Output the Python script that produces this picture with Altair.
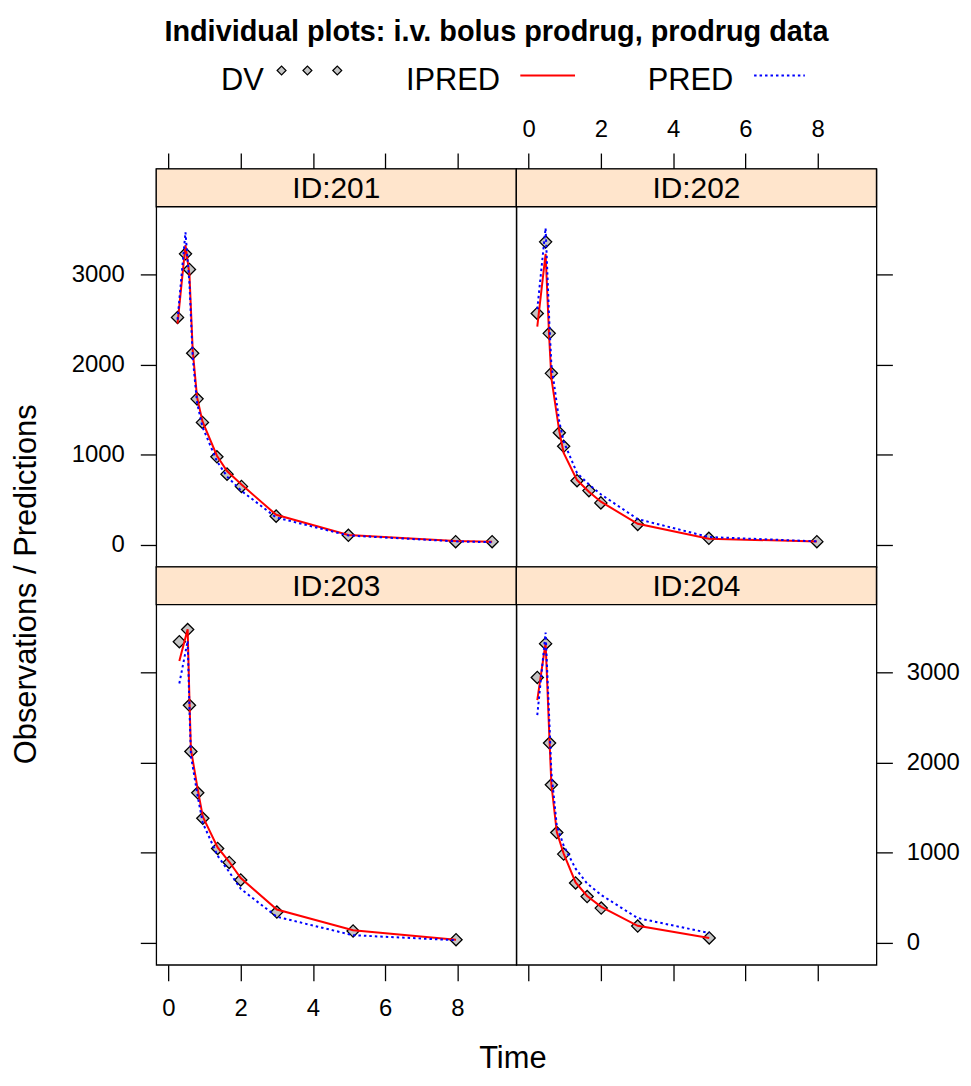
import altair as alt
import pandas as pd

# ---------------- data ----------------
ids = [201, 202, 203, 204]

time_201 = [0.25, 0.47, 0.58, 0.67, 0.79, 0.94, 1.34, 1.62, 2.02, 2.98, 4.98, 7.95, 8.96]
dv_201 = [2525, 3230, 3057, 2128, 1621, 1360, 978, 786, 650, 320, 107, 37, 37]
ipred_201 = [2455, 3326, 3000, 2160, 1640, 1370, 990, 820, 670, 335, 110, 45, 35]
pred_201 = [2500, 3470, 2900, 2080, 1580, 1310, 930, 760, 600, 305, 105, 40, 30]

time_202 = [0.24, 0.47, 0.57, 0.63, 0.85, 0.97, 1.34, 1.67, 2.00, 3.02, 4.99, 7.98]
dv_202 = [2569, 3363, 2348, 1904, 1246, 1095, 713, 603, 467, 228, 74, 37]
ipred_202 = [2422, 3230, 2300, 1850, 1260, 1020, 720, 590, 480, 235, 70, 38]
pred_202 = [2616, 3517, 2500, 2000, 1367, 1150, 797, 672, 562, 287, 88, 40]

time_203 = [0.30, 0.53, 0.58, 0.62, 0.81, 0.95, 1.36, 1.68, 2.00, 3.00, 5.11, 7.96]
dv_203 = [3342, 3477, 2636, 2124, 1665, 1382, 1048, 893, 698, 342, 132, 35]
ipred_203 = [3127, 3480, 2700, 2150, 1700, 1400, 1060, 900, 720, 370, 140, 35]
pred_203 = [2878, 3350, 2600, 2080, 1620, 1330, 966, 787, 599, 290, 85, 30]

time_204 = [0.24, 0.47, 0.58, 0.63, 0.78, 0.97, 1.30, 1.62, 2.01, 3.02, 5.00]
dv_204 = [2945, 3320, 2217, 1754, 1224, 985, 665, 514, 386, 187, 55]
ipred_204 = [2694, 3330, 2230, 1760, 1230, 990, 670, 520, 400, 190, 55]
pred_204 = [2527, 3443, 2399, 1890, 1300, 1080, 824, 659, 531, 275, 110]

x_ticks = [0, 2, 4, 6, 8]
y_ticks = [0, 1000, 2000, 3000]

series = {
    201: (time_201, dv_201, ipred_201, pred_201),
    202: (time_202, dv_202, ipred_202, pred_202),
    203: (time_203, dv_203, ipred_203, pred_203),
    204: (time_204, dv_204, ipred_204, pred_204),
}
rows = []
for pid in ids:
    t, dv, ip, pr = series[pid]
    for a, b, c, d in zip(t, dv, ip, pr):
        rows.append({"ID": pid, "TIME": a, "DV": b, "IPRED": c, "PRED": d})
df = pd.DataFrame(rows)

# ---------------- layout / style ----------------
W, H, STRIP = 362, 400, 38
XDOM = [-0.34, 9.63]
YDOM = [-243, 4172]
FONT = "Liberation Sans"
DASH = [2.5, 3]
one = pd.DataFrame({"k": [0]})


def axis(orient, labels, values, title=None, **kw):
    opts = dict(
        orient=orient, values=values, labels=labels, domain=False, grid=False,
        ticks=True, tickSize=16, tickWidth=1.3, tickColor="black",
        labelFont=FONT, labelFontSize=24, labelColor="black", format="d",
        labelPadding=15, title=title,
    )
    opts.update(kw)
    return alt.Axis(**opts)


def panel(pid, xaxis, yaxis, extra=None):
    d = df[df.ID == pid]
    x = alt.X("TIME:Q", scale=alt.Scale(domain=XDOM, nice=False, zero=False), axis=xaxis)
    ysc = alt.Scale(domain=YDOM, nice=False, zero=False)
    base = alt.Chart(d)
    strip = alt.Chart(one).mark_rect(fill="#FFE5CC", stroke="black", strokeWidth=1.3).encode(
        x=alt.value(0), x2=alt.value(W), y=alt.value(0), y2=alt.value(STRIP))
    strip_txt = alt.Chart(one).mark_text(
        text=f"ID:{pid}", font=FONT, fontSize=30, color="black", baseline="middle", align="center"
    ).encode(x=alt.value(W / 2), y=alt.value(STRIP / 2 + 1))
    pts = base.mark_point(shape="diamond", filled=True, fill="#C4C4C4", stroke="black",
                          strokeWidth=1.3, size=150, opacity=1).encode(
        x=x, y=alt.Y("DV:Q", scale=ysc, axis=yaxis))
    ipl = base.mark_line(color="#FF0000", strokeWidth=2).encode(
        x=x, y=alt.Y("IPRED:Q", scale=ysc, axis=yaxis), order="TIME:Q")
    prl = base.mark_line(color="#0000FF", strokeWidth=2, strokeDash=DASH).encode(
        x=x, y=alt.Y("PRED:Q", scale=ysc, axis=yaxis), order="TIME:Q")
    layers = [strip, strip_txt, pts, ipl, prl]
    if extra:
        layers += extra
    return alt.layer(*layers).properties(width=W, height=H)


def txt(s, x, y, size, weight="normal", align="left"):
    return alt.Chart(one).mark_text(
        text=s, font=FONT, fontSize=size, fontWeight=weight, align=align,
        baseline="alphabetic", color="black").encode(x=alt.value(x), y=alt.value(y))


def legend_diamond(x, y):
    return alt.Chart(one).mark_point(shape="diamond", filled=True, fill="#C4C4C4", stroke="black",
                                     strokeWidth=1.2, size=80, opacity=1).encode(
        x=alt.value(x), y=alt.value(y))


header = [
    txt("Individual plots: i.v. bolus prodrug, prodrug data", 342, -129, 29, "bold", "center"),
    txt("DV", 65, -79, 31),
    legend_diamond(126, -99), legend_diamond(152, -99), legend_diamond(182, -99),
    txt("IPRED", 251, -79, 31),
    alt.Chart(one).mark_rule(color="#FF0000", strokeWidth=2).encode(
        x=alt.value(366), x2=alt.value(421), y=alt.value(-94)),
    txt("PRED", 494, -79, 31),
    alt.Chart(one).mark_rule(color="#0000FF", strokeWidth=2, strokeDash=DASH).encode(
        x=alt.value(601), x2=alt.value(652), y=alt.value(-94)),
]

tl = panel(
    201,
    axis("top", False, x_ticks),
    axis("left", True, y_ticks, title="Observations / Predictions",
         titleFont=FONT, titleFontSize=31, titleFontWeight="normal", titleColor="black",
         titleAngle=270, titleAlign="center", titleBaseline="alphabetic",
         titleX=-121, titleY=417, labelPadding=16),
    extra=header,
)
tr = panel(
    202,
    axis("top", True, x_ticks, labelPadding=12),
    axis("right", False, y_ticks),
)
bl = panel(
    203,
    axis("bottom", True, x_ticks, title="Time",
         titleFont=FONT, titleFontSize=31, titleFontWeight="normal", titleColor="black",
         titleAlign="center", titleBaseline="alphabetic", titleX=358, titleY=103,
         labelPadding=16),
    axis("left", False, y_ticks),
)
br = panel(
    204,
    axis("bottom", False, x_ticks),
    axis("right", True, y_ticks, labelPadding=14),
)

chart = (
    alt.concat(tl, tr, bl, br, columns=2, spacing=0, bounds="flush")
    .properties(padding={"left": 2, "top": 6, "right": 2, "bottom": 0}, background="white")
    .configure_view(stroke="black", strokeWidth=1.3)
)

chart.save("out.html", embed_options={"renderer": "svg", "actions": False})
